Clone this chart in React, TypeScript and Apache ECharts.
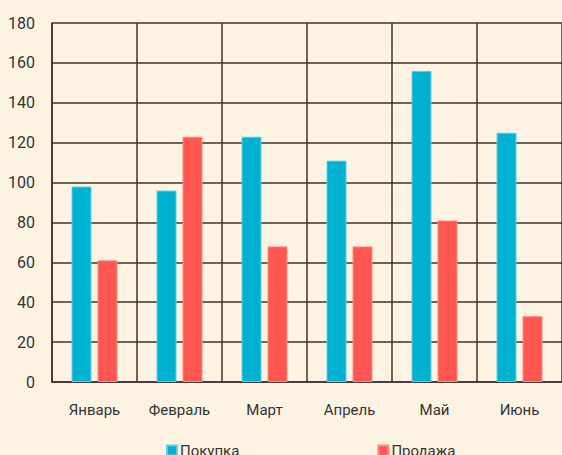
import React, { useEffect, useRef } from "react";
import * as echarts from "echarts";

const categories = ["Январь", "Февраль", "Март", "Апрель", "Май", "Июнь"];
const purchase = [98, 96, 123, 111, 156, 125];
const sale = [61, 123, 68, 68, 81, 33];
const seriesNames = ["Покупка", "Продажа"];

export default function App() {
  const ref = useRef<HTMLDivElement>(null);
  useEffect(() => {
    const chart = echarts.init(ref.current!, null, { renderer: "svg" });
    const font = "Roboto, 'Noto Sans', sans-serif";
    chart.setOption({
      animation: false,
      backgroundColor: "#fdf3e3",
      textStyle: { fontFamily: font },
      grid: { left: 52, right: 0, top: 23, bottom: 73 },
      legend: {
        data: seriesNames,
        left: 161,
        top: 438,
        itemWidth: 10,
        itemHeight: 10,
        itemGap: 138,
        icon: "rect",
        textStyle: { fontSize: 15, color: "#333", fontFamily: font, padding: [0, 0, 0, -2] },
      },
      xAxis: {
        type: "category",
        data: categories,
        axisLine: { show: true, lineStyle: { color: "#3b3331", width: 1.5 } },
        axisTick: { show: false },
        axisLabel: { fontSize: 15, color: "#333", margin: 20, fontFamily: font },
        splitLine: { show: true, interval: 0, lineStyle: { color: "#3b3331", width: 1.5 } },
      },
      yAxis: {
        type: "value",
        min: 0,
        max: 180,
        interval: 20,
        axisLine: { show: true, lineStyle: { color: "#3b3331", width: 1.5 } },
        axisTick: { show: false },
        axisLabel: { fontSize: 16, color: "#333", margin: 17, fontFamily: font },
        splitLine: { show: true, lineStyle: { color: "#3b3331", width: 1.5 } },
      },
      series: [
        {
          name: seriesNames[0],
          type: "bar",
          data: purchase,
          barWidth: 20,
          barGap: "30%",
          itemStyle: { color: "#00b1d2", borderColor: "#5fd0e4", borderWidth: 1 },
        },
        {
          name: seriesNames[1],
          type: "bar",
          data: sale,
          barWidth: 20,
          itemStyle: { color: "#ff5652", borderColor: "#ff8a84", borderWidth: 1 },
        },
      ],
    });
    return () => chart.dispose();
  }, []);
  return (
    <div
      ref={ref}
      style={{ position: "absolute", left: 0, top: 0, width: 562, height: 455 }}
    />
  );
}
